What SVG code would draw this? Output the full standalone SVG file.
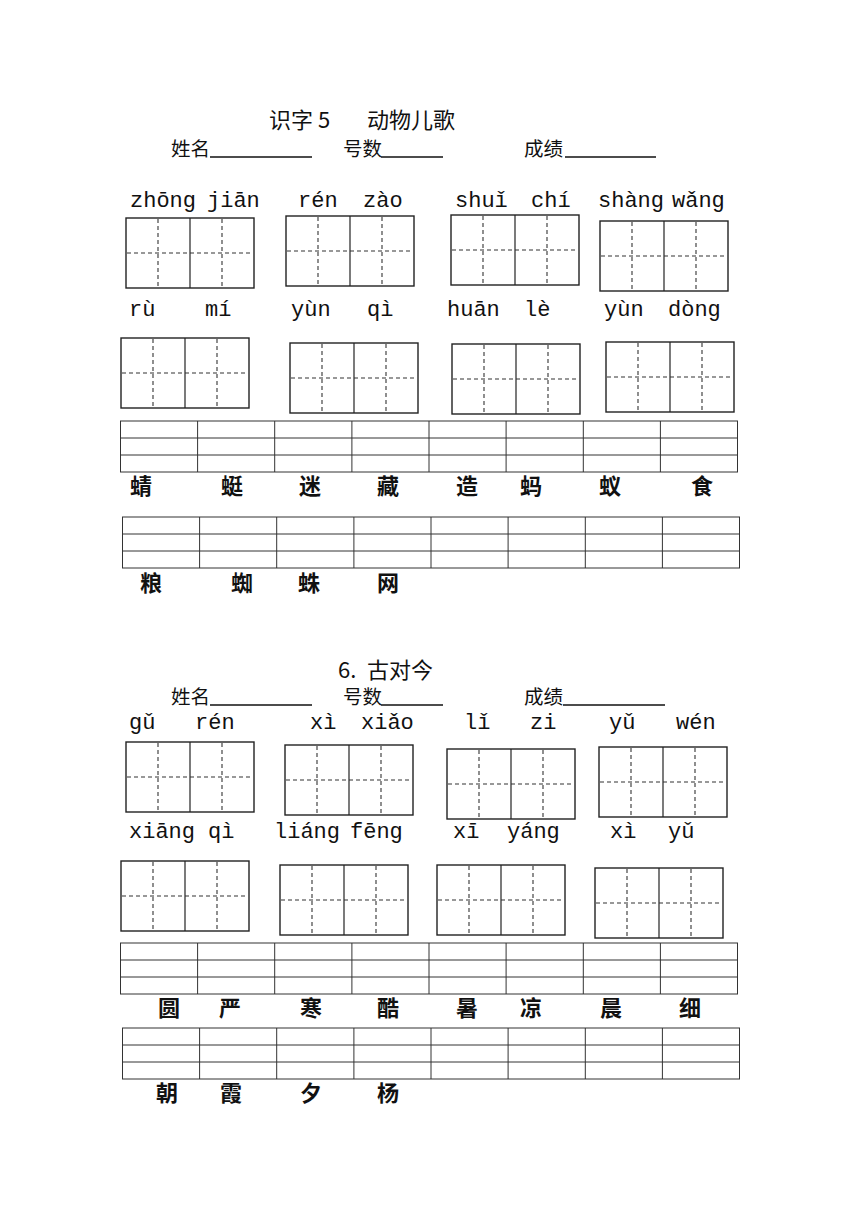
<svg xmlns="http://www.w3.org/2000/svg" xmlns:xlink="http://www.w3.org/1999/xlink" width="860" height="1216" viewBox="0 0 860 1216">
<style>
.bg{fill:#fff}
.box{fill:none;stroke:#222;stroke-width:1.4}
.sol{stroke:#222;stroke-width:1.2}
.dash{stroke:#333;stroke-width:1.1;stroke-dasharray:4 3}
.gl{fill:none;stroke:#333;stroke-width:1}
.ul{stroke:#111;stroke-width:1.3}
.title{font-family:"Noto Sans CJK SC","Noto Sans",sans-serif;font-size:22px;fill:#111}
.lab{font-family:"Noto Sans CJK SC","Noto Sans",sans-serif;font-size:19.5px;fill:#111}
.py{font-family:"Liberation Mono","DejaVu Sans Mono",monospace;font-size:22px;fill:#111}
.hz{font-family:"Noto Sans CJK SC",sans-serif;font-size:22px;font-weight:700;fill:#111}
</style>
<defs>
<g id="tz">
<rect x="0" y="0" width="128" height="70" class="box"/>
<line x1="64" y1="0" x2="64" y2="70" class="sol"/>
<line x1="32" y1="1" x2="32" y2="69" class="dash"/>
<line x1="96" y1="1" x2="96" y2="69" class="dash"/>
<line x1="1" y1="35" x2="127" y2="35" class="dash"/>
</g>
<g id="grid">
<rect x="0" y="0" width="617" height="51" class="gl"/>
<line x1="0" y1="17" x2="617" y2="17" class="gl"/>
<line x1="0" y1="34" x2="617" y2="34" class="gl"/>
<line x1="77.1" y1="0" x2="77.1" y2="51" class="gl"/>
<line x1="154.2" y1="0" x2="154.2" y2="51" class="gl"/>
<line x1="231.4" y1="0" x2="231.4" y2="51" class="gl"/>
<line x1="308.5" y1="0" x2="308.5" y2="51" class="gl"/>
<line x1="385.6" y1="0" x2="385.6" y2="51" class="gl"/>
<line x1="462.8" y1="0" x2="462.8" y2="51" class="gl"/>
<line x1="539.9" y1="0" x2="539.9" y2="51" class="gl"/>
</g>
</defs>
<rect class="bg" x="0" y="0" width="860" height="1216"/>

<g id="section1">
<g id="header1">
<text class="title" x="269" y="128">识字 5</text>
<text class="title" x="367" y="128">动物儿歌</text>
<text class="lab" x="171" y="156">姓名</text>
<line class="ul" x1="210" y1="157" x2="312" y2="157"/>
<text class="lab" x="343" y="156">号数</text>
<line class="ul" x1="381" y1="157" x2="443" y2="157"/>
<text class="lab" x="524" y="156">成绩</text>
<line class="ul" x1="565" y1="157" x2="656" y2="157"/>
</g>
<g id="pinyin1">
<text class="py" x="130" y="207">zhōng</text>
<text class="py" x="207" y="207">jiān</text>
<text class="py" x="298" y="207">rén</text>
<text class="py" x="363" y="207">zào</text>
<text class="py" x="455" y="207">shuǐ</text>
<text class="py" x="531" y="207">chí</text>
<text class="py" x="598" y="207">shàng</text>
<text class="py" x="672" y="207">wǎng</text>
</g>
<g id="boxes1">
<use xlink:href="#tz" x="126" y="218"/>
<use xlink:href="#tz" x="286" y="216"/>
<use xlink:href="#tz" x="451" y="215"/>
<use xlink:href="#tz" x="600" y="221"/>
</g>
<g id="pinyin2">
<text class="py" x="129" y="316">rù</text>
<text class="py" x="205" y="316">mí</text>
<text class="py" x="291" y="316">yùn</text>
<text class="py" x="367" y="316">qì</text>
<text class="py" x="447" y="316">huān</text>
<text class="py" x="524" y="316">lè</text>
<text class="py" x="604" y="316">yùn</text>
<text class="py" x="668" y="316">dòng</text>
</g>
<g id="boxes2">
<use xlink:href="#tz" x="121" y="338"/>
<use xlink:href="#tz" x="290" y="343"/>
<use xlink:href="#tz" x="452" y="344"/>
<use xlink:href="#tz" x="606" y="342"/>
</g>
<g id="grid1">
<use xlink:href="#grid" x="120.5" y="421"/>
<text class="hz" x="130" y="494">蜻</text>
<text class="hz" x="221" y="494">蜓</text>
<text class="hz" x="299" y="494">迷</text>
<text class="hz" x="377" y="494">藏</text>
<text class="hz" x="456" y="494">造</text>
<text class="hz" x="520" y="494">蚂</text>
<text class="hz" x="599" y="494">蚁</text>
<text class="hz" x="691" y="494">食</text>
</g>
<g id="grid2">
<use xlink:href="#grid" x="122.5" y="517"/>
<text class="hz" x="140" y="591">粮</text>
<text class="hz" x="231" y="591">蜘</text>
<text class="hz" x="298" y="591">蛛</text>
<text class="hz" x="377" y="591">网</text>
</g>
</g>

<g id="section2">
<g id="header2">
<text class="title" x="338" y="678">6.</text>
<text class="title" x="367" y="678">古对今</text>
<text class="lab" x="171" y="704">姓名</text>
<line class="ul" x1="210" y1="705" x2="312" y2="705"/>
<text class="lab" x="343" y="704">号数</text>
<line class="ul" x1="381" y1="705" x2="443" y2="705"/>
<text class="lab" x="524" y="704">成绩</text>
<line class="ul" x1="563" y1="705" x2="665" y2="705"/>
</g>
<g id="pinyin3">
<text class="py" x="129" y="729">gǔ</text>
<text class="py" x="195" y="729">rén</text>
<text class="py" x="310" y="729">xì</text>
<text class="py" x="361" y="729">xiǎo</text>
<text class="py" x="464" y="729">lǐ</text>
<text class="py" x="530" y="729">zi</text>
<text class="py" x="609" y="729">yǔ</text>
<text class="py" x="676" y="729">wén</text>
</g>
<g id="boxes3">
<use xlink:href="#tz" x="126" y="742"/>
<use xlink:href="#tz" x="285" y="745"/>
<use xlink:href="#tz" x="447" y="749"/>
<use xlink:href="#tz" x="599" y="747"/>
</g>
<g id="pinyin4">
<text class="py" x="129" y="838">xiāng</text>
<text class="py" x="208" y="838">qì</text>
<text class="py" x="274" y="838">liáng</text>
<text class="py" x="350" y="838">fēng</text>
<text class="py" x="453" y="838">xī</text>
<text class="py" x="507" y="838">yáng</text>
<text class="py" x="610" y="838">xì</text>
<text class="py" x="668" y="838">yǔ</text>
</g>
<g id="boxes4">
<use xlink:href="#tz" x="121" y="861"/>
<use xlink:href="#tz" x="280" y="865"/>
<use xlink:href="#tz" x="437" y="865"/>
<use xlink:href="#tz" x="595" y="868"/>
</g>
<g id="grid3">
<use xlink:href="#grid" x="120.5" y="943"/>
<text class="hz" x="158" y="1016">圆</text>
<text class="hz" x="219" y="1016">严</text>
<text class="hz" x="300" y="1016">寒</text>
<text class="hz" x="377" y="1016">酷</text>
<text class="hz" x="456" y="1016">暑</text>
<text class="hz" x="520" y="1016">凉</text>
<text class="hz" x="600" y="1016">晨</text>
<text class="hz" x="679" y="1016">细</text>
</g>
<g id="grid4">
<use xlink:href="#grid" x="122.5" y="1028"/>
<text class="hz" x="156" y="1101">朝</text>
<text class="hz" x="220" y="1101">霞</text>
<text class="hz" x="300" y="1101">夕</text>
<text class="hz" x="377" y="1101">杨</text>
</g>
</g>
</svg>
